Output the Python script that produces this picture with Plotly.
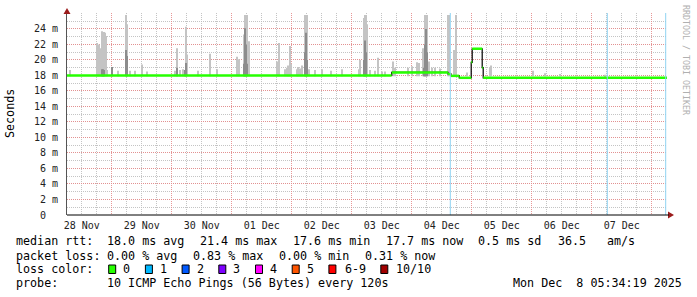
import plotly.graph_objects as go
import pandas as pd

# ---------------- data (hours since 2025-11-28 00:00, values in ms) ----------------
START = pd.Timestamp("2025-11-28 00:00")

spike_hours = [7.32, 18.12, 18.52, 18.92, 19.32, 19.72, 20.12, 20.52, 20.92, 21.32, 21.72, 22.12,
               24.24, 26.52, 29.72, 30.12, 31.32, 33.32, 36.12, 38.12,
               49.32, 50.12, 51.32, 52.52, 53.32, 53.72, 54.12, 58.52, 63.32, 66.12,
               74.12, 74.92, 76.92, 77.32, 77.72, 78.12, 78.92,
               90.12, 90.92, 93.32, 94.12, 94.52, 94.92, 95.32, 95.72,
               98.12, 98.52, 99.32, 100.12, 101.32, 101.72, 102.12, 102.92, 105.32, 108.12,
               111.72, 116.12, 122.92, 123.32, 124.92, 125.32, 125.72, 126.12, 127.32, 129.32,
               130.52, 132.12, 133.32, 136.52, 137.32, 142.52, 144.12, 146.12, 146.92,
               148.52, 148.92, 149.32, 149.72, 150.12, 150.92, 152.12, 153.32, 155.32,
               158.52, 158.92, 160.92, 161.72, 166.12, 175.32, 175.72, 192.52, 197.32,
               203.32, 221.32]
spike_top = [18.7, 22.2, 21.4, 22.0, 21.5, 21.4, 23.7, 23.5, 23.6, 23.5, 23.1, 18.7,
             19.1, 18.6, 25.8, 24.6, 18.6, 18.6, 19.4, 18.5,
             18.6, 21.5, 18.7, 18.8, 18.7, 24.3, 20.7, 18.6, 20.8, 18.8,
             20.4, 20.1, 23.3, 25.8, 25.8, 25.8, 22.4,
             19.8, 22.2, 18.8, 19.0, 19.3, 19.1, 21.8, 19.5,
             18.8, 19.1, 18.9, 19.3, 25.8, 25.8, 25.8, 18.8, 18.7, 18.8,
             18.6, 18.8, 18.8, 20.0, 25.4, 25.8, 25.8, 24.6, 18.7, 18.6,
             20.3, 18.5, 18.5, 19.8, 19.0, 19.0, 19.2, 19.7, 19.6,
             21.5, 19.2, 25.8, 25.8, 25.8, 19.8, 19.0, 19.0, 18.9,
             25.8, 25.8, 21.3, 25.8, 18.4, 19.0, 19.3, 18.6, 18.3,
             18.2, 18.1]
spike_dark = [None, None, None, None, None, None, 18.8, 18.8, 18.7, None, None, None,
              19.1, None, 21.3, 20.5, None, None, None, None,
              None, 19.0, None, None, 18.7, 19.6, None, None, None, None,
              None, None, 19.5, 24.1, 22.0, 19.5, None,
              None, None, None, None, None, None, None, None,
              None, None, None, None, 21.0, 23.5, 20.0, None, None, None,
              None, None, None, None, 20.0, 22.5, 21.0, None, None, None,
              None, None, None, None, None, None, None, None, None,
              None, 19.0, 22.0, 24.0, 21.0, None, None, None, None,
              None, None, None, None, None, None, None, None, None,
              None, None]

median_hours = [6.0, 136.0, 158.5, 159.7, 163.0, 167.8, 168.2, 172.2, 172.6, 246.2]
median_ms = [18.0, 18.4, 18.2, 17.95, 17.7, 19.7, 21.45, 19.0, 17.7, 17.7]

loss_hours = [159.44, 222.24, 245.6]

y_tick_vals = [0, 2, 4, 6, 8, 10, 12, 14, 16, 18, 20, 22, 24]
y_tick_text = ["0\u00a0\u00a0"] + [f"{v} m" for v in y_tick_vals[1:]]

loss_labels = ["0", "1", "2", "3", "4", "5", "6-9", "10/10"]
loss_colors = ["#26ff00", "#00b8ff", "#0059ff", "#7e00ff", "#ff00ff", "#ff5500", "#ff0000", "#a10000"]

stats_line1 = ["median rtt:", "18.0 ms avg", "21.4 ms max", "17.6 ms min", "17.7 ms now",
               "0.5 ms sd", "36.5", "am/s"]
stats_line2 = ["packet loss:", "0.00 % avg", "0.83 % max", "0.00 % min", "0.31 % now"]
probe_text = ["probe:", "10 ICMP Echo Pings (56 Bytes) every 120s", "Mon Dec  8 05:34:19 2025"]

# ---------------- helpers ----------------
def T(h):
    return START + pd.to_timedelta(h, unit="h")

X0, X1, Y0, Y1 = 67, 667, 13, 215   # plot area in pixels
def px(x):
    return (x - X0) / (X1 - X0)
def py(y):
    return (Y1 - y) / (Y1 - Y0)

BASE = 17.9
MONO = "DejaVu Sans Mono"

fig = go.Figure()

# smoke (light)
fig.add_trace(go.Bar(
    x=[T(h) for h in spike_hours], y=[t - BASE for t in spike_top], base=BASE,
    width=1440000, marker=dict(color="#c4c4c4", line=dict(width=0)), hoverinfo="skip"))
# smoke (dark core)
dk = [(h, d) for h, d in zip(spike_hours, spike_dark) if d is not None]
fig.add_trace(go.Bar(
    x=[T(h) for h, _ in dk], y=[d - BASE for _, d in dk], base=BASE,
    width=1440000, marker=dict(color="#8c8c8c", line=dict(width=0)), hoverinfo="skip"))

# median transitions (black) and median (green, horizontal pieces only)
fig.add_trace(go.Scatter(x=[T(h) for h in median_hours], y=median_ms, mode="lines",
                         line=dict(color="#000000", width=1.2, shape="hv"), hoverinfo="skip"))
gx, gy = [], []
for i in range(len(median_hours) - 1):
    gx += [T(median_hours[i]), T(median_hours[i + 1]), None]
    gy += [median_ms[i], median_ms[i], None]
fig.add_trace(go.Scatter(x=gx, y=gy, mode="lines", line=dict(color="#26ff00", width=2.5),
                         connectgaps=False, hoverinfo="skip"))

shapes = []
for h in loss_hours:
    shapes.append(dict(type="line", xref="x", yref="paper", x0=T(h), x1=T(h), y0=0, y1=1,
                       line=dict(color="#8fd3f2", width=1)))
# arrows
shapes.append(dict(type="path", xref="paper", yref="paper",
                   path=f"M {px(67)} {py(8)} L {px(63.5)} {py(14)} L {px(70.5)} {py(14)} Z",
                   fillcolor="#9b1c1c", line=dict(width=0)))
shapes.append(dict(type="path", xref="paper", yref="paper",
                   path=f"M {px(674)} {py(215)} L {px(668)} {py(211.5)} L {px(668)} {py(218.5)} Z",
                   fillcolor="#9b1c1c", line=dict(width=0)))
shapes.append(dict(type="line", xref="paper", yref="paper", x0=0, x1=px(669), y0=0, y1=0,
                   line=dict(color="#000000", width=1)))

annotations = []
def txt(x, y, s, size=11.7, color="#000000", **kw):
    annotations.append(dict(xref="paper", yref="paper", x=px(x), y=py(y), text=s, showarrow=False,
                            xanchor=kw.pop("xanchor", "left"), yanchor=kw.pop("yanchor", "middle"),
                            font=dict(family=MONO, size=size, color=color), borderpad=0, **kw))

l1x = [15, 106.3, 199, 292.3, 385, 477.3, 557.3, 606.3]
for x, s in zip(l1x, stats_line1):
    txt(x, 241.5, s)
l2x = [15, 106.3, 192.3, 278.3, 364]
for x, s in zip(l2x, stats_line2):
    txt(x, 255.5, s)
txt(15, 269, "loss color:")
box_x = [108.7, 145.4, 182.1, 218.8, 255.5, 292.2, 328.9, 380.8]
lab_x = [122.3, 159.0, 195.7, 232.4, 269.1, 305.8, 344.0, 395.0]
for bx, lx, lab, col in zip(box_x, lab_x, loss_labels, loss_colors):
    shapes.append(dict(type="rect", xref="paper", yref="paper", x0=px(bx), x1=px(bx + 7),
                       y0=py(265), y1=py(273.5), fillcolor=col, line=dict(color="#000000", width=1)))
    txt(lx, 269, lab)
for x, s in zip([15, 106.3, 511.7], probe_text):
    txt(x, 283, s)

txt(10, 114, "Seconds", xanchor="center", textangle=-90)
txt(686, 60, "RRDTOOL / TOBI OETIKER", size=8.3, color="#b0b0b0", xanchor="center", textangle=90)

RED = "rgba(230,140,140,0.9)"
GREY = "rgba(190,190,190,0.9)"
fig.update_layout(
    width=697, height=297, margin=dict(l=X0, r=697 - X1, t=Y0, b=297 - Y1),
    paper_bgcolor="#ffffff", plot_bgcolor="#ffffff", showlegend=False,
    barmode="overlay", shapes=shapes, annotations=annotations,
    xaxis=dict(type="date", range=[T(6.12), T(246.12)], tick0="2025-11-28", dtick=86400000,
               ticklabelmode="period", tickformat="%d %b", ticks="", ticklabelstandoff=3,
               showgrid=True, gridcolor=RED, griddash="1px,1px", gridwidth=1,
               minor=dict(dtick=21600000, tick0="2025-11-28", showgrid=True, gridcolor=GREY,
                          griddash="1px,1px", gridwidth=1),
               showline=False, zeroline=False,
               tickfont=dict(family=MONO, size=10, color="#222222")),
    yaxis=dict(range=[0, 26.06], tickvals=y_tick_vals, ticktext=y_tick_text, ticks="",
               showgrid=True, gridcolor=RED, griddash="1px,1px", gridwidth=1,
               minor=dict(dtick=1, showgrid=True, gridcolor=GREY, griddash="1px,1px"),
               showline=True, linecolor="#555555", linewidth=1, zeroline=False,
               ticklabelstandoff=6,
               tickfont=dict(family=MONO, size=10, color="#222222")),
)

fig.write_html("out.html")
